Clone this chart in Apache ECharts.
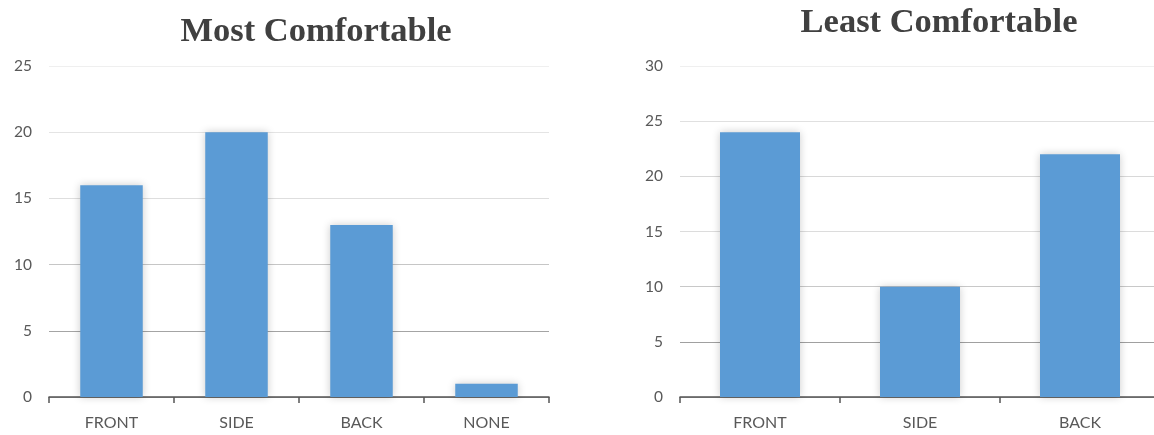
<!DOCTYPE html>
<html>
<head>
<meta charset="utf-8">
<script src="https://cdn.jsdelivr.net/npm/echarts@6/dist/echarts.min.js"></script>
<style>
  html, body { margin: 0; padding: 0; background: #ffffff; overflow: hidden; }
  /* canvas runs a few pixels past the right edge so the last axis can bleed off */
  #chart { width: 1162px; height: 435px; }
</style>
</head>
<body>
<div id="chart"></div>
<script>
// Survey results: preferred and least preferred approach positions
const mostCategories = ['FRONT', 'SIDE', 'BACK', 'NONE'];
const mostValues = [16, 20, 13, 1];
const leastCategories = ['FRONT', 'SIDE', 'BACK'];
const leastValues = [24, 10, 22];
const mostTitle = 'Most Comfortable';
const leastTitle = 'Least Comfortable';

const barColor = '#5b9bd5';
const labelColor = '#595959';
const labelFont = 'Lato, "Open Sans", sans-serif';

function barSeries(values, axisIndex) {
  return {
    type: 'bar',
    xAxisIndex: axisIndex,
    yAxisIndex: axisIndex,
    data: values,
    barWidth: '50%',
    itemStyle: {
      color: barColor,
      shadowBlur: 8,
      shadowColor: 'rgba(0,0,0,0.2)'
    },
    silent: true
  };
}

function catAxis(cats, gridIndex) {
  return {
    type: 'category',
    gridIndex: gridIndex,
    data: cats,
    axisLine: { lineStyle: { color: '#555555', width: 1.5 } },
    axisTick: { show: true, length: 6, lineStyle: { color: '#555555', width: 1.5 } },
    axisLabel: { color: labelColor, fontSize: 16, fontFamily: labelFont, margin: 18 }
  };
}

function valAxis(max, gridIndex, gridColors) {
  return {
    type: 'value',
    gridIndex: gridIndex,
    min: 0,
    max: max,
    interval: 5,
    axisLine: { show: false },
    axisTick: { show: false },
    axisLabel: { color: labelColor, fontSize: 15.5, fontFamily: labelFont, margin: 17 },
    splitLine: { lineStyle: { color: gridColors, width: 1 } }
  };
}

const titleStyle = {
  fontFamily: '"Liberation Serif", "Times New Roman", serif',
  fontWeight: 'bold',
  fontSize: 34.5,
  color: '#404040'
};

const chart = echarts.init(document.getElementById('chart'), null, { renderer: 'canvas' });
chart.setOption({
  backgroundColor: '#ffffff',
  animation: false,
  title: [
    { text: mostTitle, left: 311, top: 10, textAlign: 'center', textStyle: titleStyle },
    { text: leastTitle, left: 934, top: 1, textAlign: 'center', textStyle: titleStyle }
  ],
  grid: [
    { left: 49, top: 66, width: 500, height: 331, containLabel: false },
    { left: 680, top: 66, width: 480, height: 331, containLabel: false }
  ],
  xAxis: [catAxis(mostCategories, 0), catAxis(leastCategories, 1)],
  yAxis: [
    valAxis(25, 0, ['#aaaaaa', '#a4a4a4', '#c6c6c6', '#dedede', '#e4e4e4', '#efefef']),
    valAxis(30, 1, ['#aaaaaa', '#a0a0a0', '#c8c8c8', '#dcdcdc', '#d8d8d8', '#e0e0e0', '#efefef'])
  ],
  series: [barSeries(mostValues, 0), barSeries(leastValues, 1)]
});
</script>
</body>
</html>
